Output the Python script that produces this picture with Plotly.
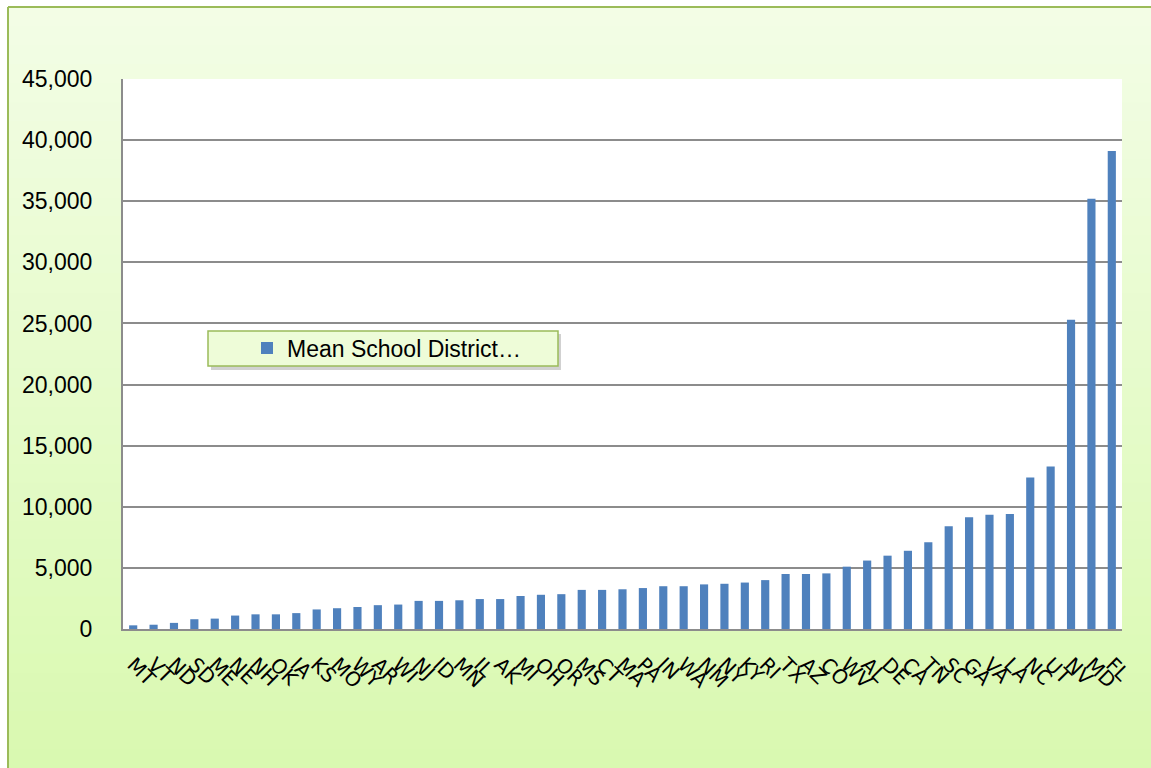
import plotly.graph_objects as go

states = ["MT","VT","ND","SD","ME","NE","NH","OK","IA","KS","MO","WY","AR","WI","NJ","ID",
          "MN","IL","AK","MI","OH","OR","MS","CT","MA","PA","IN","WA","NM","NY","KY","RI",
          "TX","AZ","CO","WV","AL","DE","CA","TN","SC","GA","VA","LA","NC","UT","NV","MD","FL"]
mean_district = [300, 350, 500, 800, 850, 1100, 1200, 1200, 1300, 1600, 1700, 1800, 1950, 2000,
                 2300, 2300, 2350, 2450, 2450, 2700, 2800, 2850, 3200, 3200, 3250, 3350, 3500,
                 3500, 3650, 3700, 3800, 4000, 4500, 4500, 4550, 5100, 5600, 6000, 6400, 7100,
                 8400, 9150, 9350, 9400, 12400, 13300, 25300, 35200, 39100]
y_ticks = [0, 5000, 10000, 15000, 20000, 25000, 30000, 35000, 40000, 45000]
series_name = "Mean School District…"

W, H = 1151, 768
L, R, T, B = 123, 1122, 79, 629

def px(x):
    return (x - L) / (R - L)

def py(y):
    return (B - y) / (B - T)

def lerp(c1, c2, t):
    return "rgb(%d,%d,%d)" % tuple(round(a + (b - a) * t) for a, b in zip(c1, c2))

shapes = []
# gradient background frame
top_c = (243, 253, 230)
bot_c = (217, 249, 176)
n = 40
y0_frame, y1_frame = 7, H
for i in range(n):
    ya = y0_frame + (y1_frame - y0_frame) * i / n
    yb = y0_frame + (y1_frame - y0_frame) * (i + 1) / n + 1
    shapes.append(dict(type="rect", xref="paper", yref="paper", layer="below",
                       x0=px(8), x1=px(W + 5), y0=py(yb), y1=py(ya),
                       fillcolor=lerp(top_c, bot_c, (i + 0.5) / n), line=dict(width=0)))
# frame border (left and top)
shapes.append(dict(type="line", xref="paper", yref="paper", layer="below",
                   x0=px(8), x1=px(8), y0=py(H + 5), y1=py(7),
                   line=dict(color="#9bbb59", width=2)))
shapes.append(dict(type="line", xref="paper", yref="paper", layer="below",
                   x0=px(8), x1=px(W + 5), y0=py(7), y1=py(7),
                   line=dict(color="#9bbb59", width=2)))
# white plot area
shapes.append(dict(type="rect", xref="paper", yref="paper", layer="below",
                   x0=0, x1=1, y0=0, y1=1, fillcolor="white", line=dict(width=0)))
# legend box shadow + box
shapes.append(dict(type="rect", xref="paper", yref="paper", layer="above",
                   x0=px(211), x1=px(561), y0=py(370), y1=py(334),
                   fillcolor="rgba(0,0,0,0.18)", line=dict(width=0)))
shapes.append(dict(type="rect", xref="paper", yref="paper", layer="above",
                   x0=px(208), x1=px(558), y0=py(366), y1=py(331),
                   fillcolor="#eefcd8", line=dict(color="#9bbb59", width=1.5)))

fig = go.Figure()
fig.add_trace(go.Bar(x=states, y=mean_district, name=series_name,
                     marker=dict(color="#4f81bd", line=dict(width=0))))

fig.update_layout(
    width=W, height=H,
    margin=dict(l=L, r=W - R, t=T, b=H - B, autoexpand=False),
    paper_bgcolor="white",
    plot_bgcolor="rgba(0,0,0,0)",
    bargap=0.6,
    showlegend=True,
    legend=dict(x=px(247), y=py(348), xanchor="left", yanchor="middle",
                bgcolor="rgba(0,0,0,0)", borderwidth=0,
                font=dict(family="Liberation Sans", size=23, color="black"),
                itemwidth=30),
    shapes=shapes,
    font=dict(family="Liberation Sans", color="black"),
)
fig.update_xaxes(
    type="category", tickangle=45, showgrid=False,
    tickmode="linear", tick0=0, dtick=1,
    showline=True, linecolor="#8c8c8c", linewidth=2,
    ticks="", tickfont=dict(family="DejaVu Sans", size=20, color="black"),
    ticklabelstandoff=14,
)
fig.update_yaxes(
    range=[0, 45000], tickvals=y_ticks, tickformat=",",
    showgrid=True, gridcolor="#8c8c8c", gridwidth=1.5,
    showline=True, linecolor="#8c8c8c", linewidth=2,
    ticks="", tickfont=dict(family="Liberation Sans", size=23, color="black"),
    ticklabelstandoff=24, zeroline=False,
)

fig.write_html("out.html", config={"displayModeBar": False},
               post_script="document.body.style.margin='0';document.body.style.overflow='hidden';")
